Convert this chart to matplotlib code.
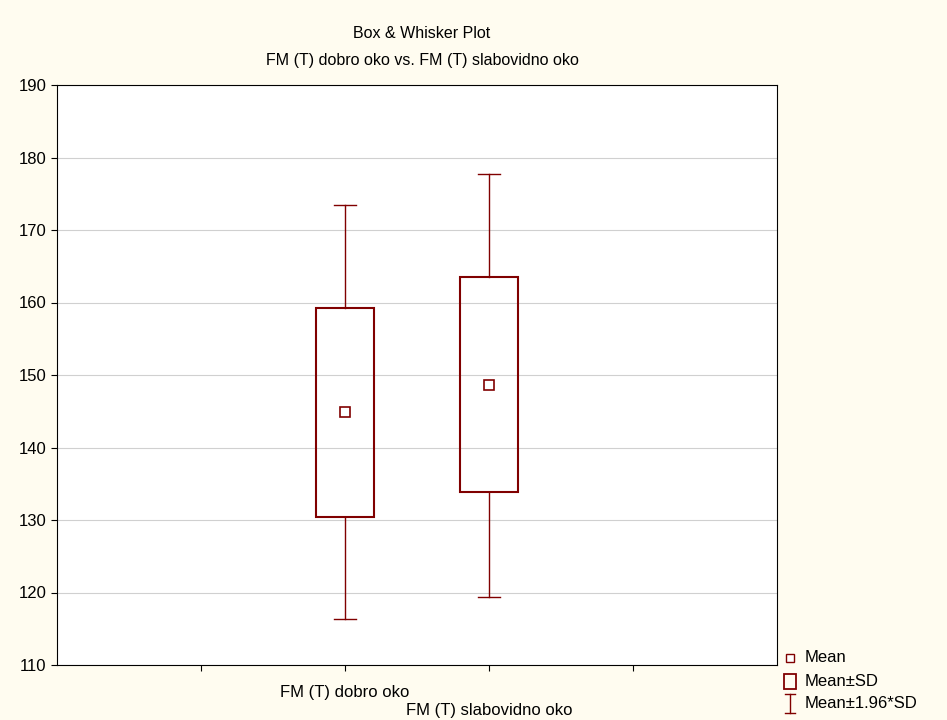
import matplotlib
matplotlib.use("Agg")
import matplotlib.pyplot as plt
from matplotlib.lines import Line2D
from matplotlib.patches import Rectangle

plt.rcParams['font.family'] = ['Liberation Sans', 'DejaVu Sans']

categories = ["FM (T) dobro oko", "FM (T) slabovidno oko"]
means = [144.9, 148.6]
sd_low = [130.4, 133.8]
sd_high = [159.3, 163.5]
w_low = [116.3, 119.4]
w_high = [173.4, 177.7]

bg = '#FFFCF0'
red = '#800000'
fig = plt.figure(figsize=(9.47, 7.2), dpi=100, facecolor=bg)
ax = fig.add_axes([57/947, 1-665/720, 720/947, 580/720])
ax.set_facecolor('white')
ax.set_xlim(0, 5)
ax.set_ylim(110, 190)
ax.set_yticks(range(110, 191, 10))
ax.grid(axis='y', color='#d0d0d0', lw=0.8)
ax.set_axisbelow(True)
ax.set_xticks([1, 2, 3, 4])
ax.set_xticklabels([])
ax.tick_params(labelsize=12, direction='out', length=4)
for s in ax.spines.values():
    s.set_color('black'); s.set_linewidth(0.8)

bw = 0.4
cw = 0.15
for i, x in enumerate([2, 3]):
    ax.add_patch(Rectangle((x-bw/2, sd_low[i]), bw, sd_high[i]-sd_low[i], fill=False, ec=red, lw=1.5, zorder=3))
    ax.plot([x, x], [w_low[i], sd_low[i]], color=red, lw=1)
    ax.plot([x, x], [sd_high[i], w_high[i]], color=red, lw=1)
    ax.plot([x-cw/2, x+cw/2], [w_low[i]]*2, color=red, lw=1)
    ax.plot([x-cw/2, x+cw/2], [w_high[i]]*2, color=red, lw=1)
    ax.plot([x], [means[i]], marker='s', ms=7, mfc='white', mec=red, mew=1.2, zorder=4)

ax.text(2, -0.035, categories[0], transform=ax.get_xaxis_transform(), ha='center', va='top', fontsize=12)
ax.text(3, -0.065, categories[1], transform=ax.get_xaxis_transform(), ha='center', va='top', fontsize=12)

fig.text(422/947, 1-34/720, "Box & Whisker Plot", ha='center', va='center', fontsize=11.5)
fig.text(422/947, 1-60/720, "FM (T) dobro oko vs. FM (T) slabovidno oko", ha='center', va='center', fontsize=11.5)

# legend
lx = 790/947
fig.add_artist(Line2D([lx], [1-658/720], marker='s', ms=6, mfc='white', mec=red, mew=1, transform=fig.transFigure))
fig.text(805/947, 1-658/720, "Mean", va='center', fontsize=12)
fig.add_artist(Rectangle((784/947, 1-689/720), 12/947, 15/720, fill=False, ec=red, lw=1.3, transform=fig.transFigure))
fig.text(805/947, 1-681/720, "Mean±SD", va='center', fontsize=12)
for xs, ys in [([lx, lx], [1-694/720, 1-713/720]), ([lx-5/947, lx+5/947], [1-694/720]*2), ([lx-5/947, lx+5/947], [1-713/720]*2)]:
    fig.add_artist(Line2D(xs, ys, color=red, lw=1, transform=fig.transFigure))
fig.text(805/947, 1-703/720, "Mean±1.96*SD", va='center', fontsize=12)

fig.savefig("out.png", dpi=100, facecolor=bg)
